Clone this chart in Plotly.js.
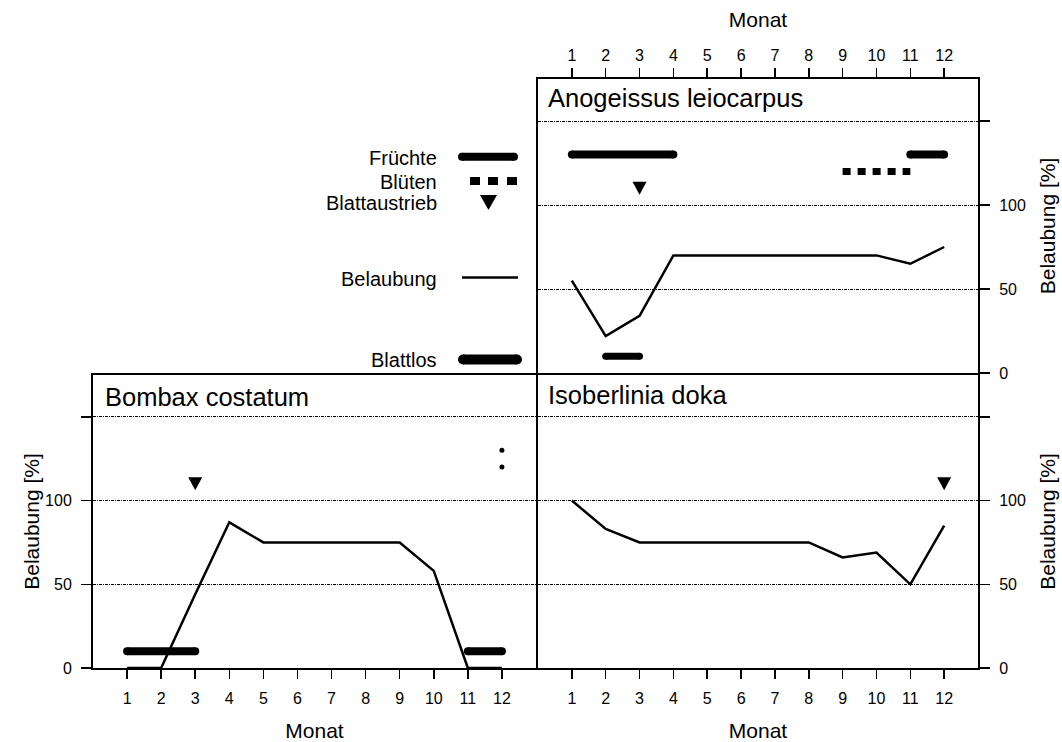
<!DOCTYPE html>
<html><head><meta charset="utf-8">
<script src="https://cdn.plot.ly/plotly-3.0.1.min.js"></script>
<style>html,body{margin:0;padding:0;background:#fff}#chart{width:1062px;height:742px}</style>
</head><body><div id="chart"></div>
<script>
// ---------- data ----------
const months = [1,2,3,4,5,6,7,8,9,10,11,12];
const monthLabels = ['1','2','3','4','5','6','7','8','9','10','11','12'];
const yTickVals = [0,50,100,150];
const yTickText = ['0','50','100',''];

// plotting levels of phenology markers (in % axis units)
const levelFruit = 130, levelFlower = 120, levelSprout = 110, levelLeafless = 10;

// Anogeissus leiocarpus
const anoFoliage = [55,22,34,70,70,70,70,70,70,70,65,75];
const anoFruitStart = [1,11], anoFruitEnd = [4,12];
const anoFlowerStart = [9], anoFlowerEnd = [11];
const anoSprout = [3];
const anoLeaflessStart = [2], anoLeaflessEnd = [3];

// Bombax costatum
const bomFoliage = [0,0,44,87,75,75,75,75,75,58,0,0];
const bomSprout = [3];
const bomLeaflessStart = [1,11], bomLeaflessEnd = [3,12];
const bomFruitPoint = [12], bomFlowerPoint = [12];

// Isoberlinia doka
const isoFoliage = [100,83,75,75,75,75,75,75,66,69,50,85];
const isoSprout = [12];

// legend / titles text
const legendLabels = ['Früchte','Blüten','Blattaustrieb','Belaubung','Blattlos'];
const panelTitles = ['Anogeissus leiocarpus','Bombax costatum','Isoberlinia doka'];

// ---------- helpers ----------
const FONT = 'Liberation Sans, Arial, sans-serif';
function segs(starts, ends, level){
  const x=[], y=[];
  starts.forEach((s,i)=>{ x.push(s, ends[i], null); y.push(level, level, null); });
  return {x, y};
}
function bar(starts, ends, level, w, xa, ya){
  const s = segs(starts, ends, level);
  return {x:s.x, y:s.y, xaxis:xa, yaxis:ya, mode:'lines+markers', type:'scatter',
    line:{color:'black', width:w}, marker:{color:'black', size:w, symbol:'circle'},
    hoverinfo:'skip', showlegend:false};
}
function flower(starts, ends, level, xa, ya){
  const s = segs(starts, ends, level);
  return {x:s.x, y:s.y, xaxis:xa, yaxis:ya, mode:'lines', type:'scatter',
    line:{color:'black', width:7, dash:'8px,7px'}, hoverinfo:'skip', showlegend:false};
}
function foliage(vals, xa, ya){
  return {x:months, y:vals, xaxis:xa, yaxis:ya, mode:'lines', type:'scatter',
    line:{color:'black', width:2.5}, hoverinfo:'skip', showlegend:false};
}
function dots(xs, level, xa, ya){
  return {x:xs, y:xs.map(()=>level), xaxis:xa, yaxis:ya, mode:'markers', type:'scatter',
    marker:{color:'black', size:5}, hoverinfo:'skip', showlegend:false};
}
// leaf-sprout triangles: shapes anchored at data coordinates, sized in pixels
function sproutShapes(xs, xa, ya){
  return xs.map(m => ({type:'path', xref:xa, yref:ya, xsizemode:'pixel', ysizemode:'pixel',
    xanchor:m, yanchor:levelSprout, path:'M-7,6.5 L7,6.5 L0,-6.5 Z',
    fillcolor:'black', line:{width:0}}));
}

const traces = [
  // Anogeissus (x / y)
  foliage(anoFoliage,'x','y'),
  bar(anoFruitStart, anoFruitEnd, levelFruit, 8, 'x','y'),
  flower(anoFlowerStart, anoFlowerEnd, levelFlower, 'x','y'),
  bar(anoLeaflessStart, anoLeaflessEnd, levelLeafless, 7, 'x','y'),
  // Bombax (x2 / y2)
  foliage(bomFoliage,'x2','y2'),
  bar(bomLeaflessStart, bomLeaflessEnd, levelLeafless, 8, 'x2','y2'),
  dots(bomFruitPoint, levelFruit, 'x2','y2'),
  dots(bomFlowerPoint, levelFlower, 'x2','y2'),
  // Isoberlinia (x3 / y3)
  foliage(isoFoliage,'x3','y3')
];

// ---------- layout ----------
const L=93, R=978, T=79, B=668;
const px = x => (x-L)/(R-L);
const py = y => (B-y)/(B-T);

function xAxis(domain, anchor, side){
  const top = side === 'top';
  return {domain, anchor, side, range:[0,13], tickmode:'array', tickvals:months, ticktext:monthLabels,
    ticks:'outside', ticklen:9, tickwidth:1.5, tickcolor:'black',
    showline:true, linewidth:2, linecolor:'black', mirror:true,
    showgrid:false, zeroline:false, ticklabelstandoff: top ? 1 : 6,
    tickfont:{family:FONT, size:16, color:'black'},
    title:{text:'Monat', font:{family:FONT, size:21, color:'black'}, standoff: top ? 13 : 19}};
}
function yAxis(domain, anchor, side){
  const right = side === 'right';
  return {domain, anchor, side, range:[0,175], tickmode:'array', tickvals:yTickVals, ticktext:yTickText,
    ticks:'outside', ticklen:10, tickwidth:1.5, tickcolor:'black',
    showline:true, linewidth:2, linecolor:'black', mirror:true,
    showgrid:true, gridcolor:'black', gridwidth:1, griddash:'3px,1px,1px,1px', zeroline:false,
    ticklabelstandoff:6,
    tickfont:{family:FONT, size:16, color:'black'},
    title:{text:'Belaubung [%]', font:{family:FONT, size:21, color:'black'}, standoff: right ? 15 : 0}};
}

const leftDom = [0, px(536)], rightDom = [px(538), 1];
const topDom = [py(373), 1], botDom = [0, py(375)];

const annFont = {family:FONT, size:25.5, color:'black'};
const legFont = {family:FONT, size:20, color:'black'};
const annotations = [
  {text:panelTitles[0], x:px(546), y:py(98), xref:'paper', yref:'paper', xanchor:'left', yanchor:'middle', showarrow:false, font:annFont},
  {text:panelTitles[1], x:px(103), y:py(397), xref:'paper', yref:'paper', xanchor:'left', yanchor:'middle', showarrow:false, font:annFont},
  {text:panelTitles[2], x:px(546), y:py(395), xref:'paper', yref:'paper', xanchor:'left', yanchor:'middle', showarrow:false, font:annFont},
];
const legendY = [158, 182, 202.5, 279, 360];
legendLabels.forEach((t,i)=>annotations.push({text:t, x:px(439), y:py(legendY[i]), xref:'paper', yref:'paper',
  xanchor:'right', yanchor:'middle', showarrow:false, font:legFont}));

function pline(x0,x1,y,w){ return {type:'line', xref:'paper', yref:'paper', x0:px(x0), x1:px(x1), y0:py(y), y1:py(y), line:{color:'black', width:w}}; }
function pdot(x,y,r){ return {type:'circle', xref:'paper', yref:'paper', xsizemode:'pixel', ysizemode:'pixel',
  xanchor:px(x), yanchor:py(y), x0:-r, x1:r, y0:-r, y1:r, fillcolor:'black', line:{width:0}}; }
function prect(x0,x1,y0,y1){ return {type:'rect', xref:'paper', yref:'paper', x0:px(x0), x1:px(x1), y0:py(y0), y1:py(y1), fillcolor:'black', line:{width:0}}; }

const shapes = [
  pline(462,514,156.7,8), pdot(462,156.7,4), pdot(514,156.7,4),
  prect(470,480,177,185), prect(488,498,177,185), prect(507,517,177,185),
  {type:'path', xref:'paper', yref:'paper', fillcolor:'black', line:{width:0},
   path:`M${px(480)},${py(195)} L${px(497)},${py(195)} L${px(488.5)},${py(210)} Z`},
  pline(462,518,277.5,2.5),
  pline(463,517,359.5,10), pdot(463,359.5,5), pdot(517,359.5,5),
  ...sproutShapes(anoSprout,'x','y'),
  ...sproutShapes(bomSprout,'x2','y2'),
  ...sproutShapes(isoSprout,'x3','y3')
];

const layout = {
  width:1062, height:742,
  margin:{l:L, r:1062-R, t:T, b:742-B, pad:0},
  paper_bgcolor:'white', plot_bgcolor:'rgba(0,0,0,0)',
  font:{family:FONT, color:'black'},
  showlegend:false,
  xaxis: xAxis(rightDom,'y','top'),
  yaxis: yAxis(topDom,'x','right'),
  xaxis2: xAxis(leftDom,'y2','bottom'),
  yaxis2: yAxis(botDom,'x2','left'),
  xaxis3: xAxis(rightDom,'y3','bottom'),
  yaxis3: yAxis(botDom,'x3','right'),
  annotations, shapes
};

Plotly.newPlot('chart', traces, layout, {staticPlot:true, displayModeBar:false});
</script>
</body></html>
